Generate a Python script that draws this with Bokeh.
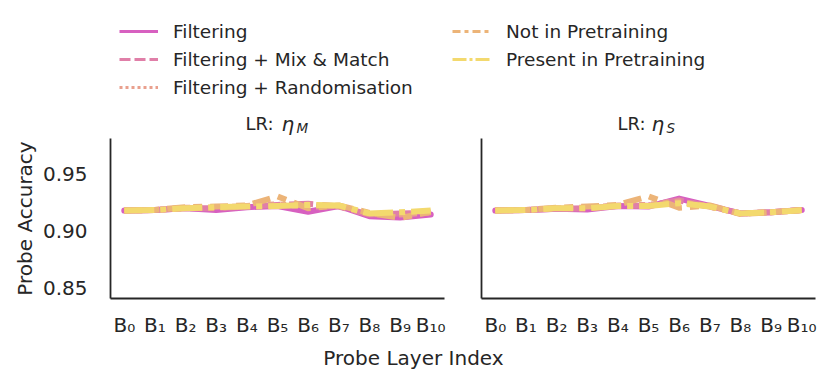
from bokeh.plotting import figure
from bokeh.models import Range1d, FixedTicker, Label, Legend, LegendItem, NumeralTickFormatter
from bokeh.layouts import column, row
from bokeh.embed import file_html
from bokeh.resources import INLINE

# ---------------- data ----------------
layers = list(range(11))
layer_labels = ["B₀", "B₁", "B₂", "B₃", "B₄", "B₅", "B₆", "B₇", "B₈", "B₉", "B₁₀"]
y_ticks = [0.85, 0.90, 0.95]

series_names = ["Filtering", "Filtering + Mix & Match", "Filtering + Randomisation",
                "Not in Pretraining", "Present in Pretraining"]
panel_subs = ["M", "S"]

# panel LR: eta_M
filt_M = [0.9175, 0.9180, 0.9195, 0.9180, 0.9205, 0.9215, 0.9165, 0.9215, 0.9125, 0.9115, 0.9140]
mix_M = [0.9175, 0.9180, 0.9195, 0.9195, 0.9210, 0.9225, 0.9235, 0.9210, 0.9140, 0.9150, 0.9155]
rand_M = [0.9175, 0.9180, 0.9200, 0.9200, 0.9215, 0.9230, 0.9210, 0.9215, 0.9145, 0.9140, 0.9160]
notin_M = [0.9175, 0.9180, 0.9205, 0.9210, 0.9220, 0.9300, 0.9195, 0.9220, 0.9155, 0.9110, 0.9165]
pres_M = [0.9175, 0.9180, 0.9195, 0.9205, 0.9210, 0.9215, 0.9225, 0.9220, 0.9150, 0.9160, 0.9175]

# panel LR: eta_S
filt_S = [0.9175, 0.9180, 0.9190, 0.9185, 0.9215, 0.9210, 0.9280, 0.9215, 0.9150, 0.9160, 0.9180]
mix_S = [0.9175, 0.9180, 0.9190, 0.9195, 0.9215, 0.9220, 0.9265, 0.9210, 0.9150, 0.9160, 0.9180]
rand_S = [0.9175, 0.9180, 0.9195, 0.9200, 0.9220, 0.9225, 0.9255, 0.9210, 0.9150, 0.9160, 0.9178]
notin_S = [0.9175, 0.9180, 0.9200, 0.9210, 0.9225, 0.9300, 0.9200, 0.9220, 0.9145, 0.9160, 0.9180]
pres_S = [0.9175, 0.9180, 0.9195, 0.9195, 0.9215, 0.9215, 0.9240, 0.9210, 0.9150, 0.9160, 0.9178]

# ---------------- styles ----------------
colors = ["#d760c0", "#e07fa8", "#e9a08e", "#ecb478", "#f3d96e"]
plot_dashes = ["solid", "24 9", "6 6", "18 8 9 8", "30 6 6 6"]
legend_dashes = ["solid", "11 4", "3 3", "8 4 4 4", "14 3 3 3"]
TXT = "#262626"
FONT = "DejaVu Sans"

Y0, Y1 = 0.8404, 0.9807
X0, X1 = -0.45, 10.45


def make_panel(width, bl, br, series, show_ylabels):
    p = figure(width=width, height=202, x_range=Range1d(X0, X1), y_range=Range1d(Y0, Y1),
               output_backend="svg", toolbar_location=None,
               min_border_left=bl, min_border_right=br, min_border_top=0, min_border_bottom=42)
    p.outline_line_color = None
    p.grid.visible = False
    for ax in (p.xaxis[0], p.yaxis[0]):
        ax.axis_line_color = TXT
        ax.axis_line_width = 1.8
        ax.major_tick_line_color = None
        ax.minor_tick_line_color = None
        ax.major_label_text_font = FONT
        ax.major_label_text_font_size = "20px"
        ax.major_label_text_color = TXT
    p.xaxis.ticker = FixedTicker(ticks=layers)
    p.xaxis.major_label_overrides = {i: lab for i, lab in zip(layers, layer_labels)}
    p.xaxis.major_label_standoff = 8
    if show_ylabels:
        p.yaxis.ticker = FixedTicker(ticks=y_ticks)
        p.yaxis.formatter = NumeralTickFormatter(format="0.00")
        p.yaxis.major_label_standoff = 17
        p.yaxis.axis_label = "Probe Accuracy"
        p.yaxis.axis_label_text_font = FONT
        p.yaxis.axis_label_text_font_size = "20px"
        p.yaxis.axis_label_text_font_style = "normal"
        p.yaxis.axis_label_text_color = TXT
        p.yaxis.axis_label_standoff = 3
    else:
        p.yaxis.ticker = FixedTicker(ticks=[])
        p.yaxis.major_label_standoff = 0

    for vals, col, dash in zip(series, colors, plot_dashes):
        p.line(layers, vals, line_color=col, line_width=6, line_dash=dash,
               line_cap="round" if dash == "solid" else "butt", line_join="round")
    return p


left = make_panel(462, 110, 18, [filt_M, mix_M, rand_M, notin_M, pres_M], True)
right = make_panel(369, 19, 16, [filt_S, mix_S, rand_S, notin_S, pres_S], False)

# ---------------- legend + titles strip ----------------
XOFF = 1000  # legend sample lines live off-screen; strip x data = XOFF + pixel
top = figure(width=831, height=138, x_range=Range1d(XOFF, XOFF + 831), y_range=Range1d(0, 138),
             output_backend="svg", toolbar_location=None, min_border=0,
             x_axis_location=None, y_axis_location=None)
top.outline_line_color = None
top.grid.visible = False
rs = []
for vals, col, dash in zip([filt_M, mix_M, rand_M, notin_M, pres_M], colors, legend_dashes):
    rs.append(top.line(layers, vals, line_color=col, line_width=2.8, line_dash=dash))


def make_legend(idx, loc):
    return Legend(items=[LegendItem(label=series_names[i], renderers=[rs[i]]) for i in idx],
                  location=loc, orientation="vertical", glyph_width=39, glyph_height=22,
                  label_height=22, label_standoff=15, spacing=6, padding=0, margin=0,
                  border_line_color=None, background_fill_alpha=0,
                  label_text_font=FONT, label_text_font_size="18.5px", label_text_color=TXT)


top.add_layout(make_legend([0, 1, 2], (119, 40)))
top.add_layout(make_legend([3, 4], (452, 68)))

# panel titles "LR: η_M" / "LR: η_S"
for (lr_end, eta_x, sub_x), sub in zip([(273, 281, 296), (645, 651, 666)], panel_subs):
    top.add_layout(Label(x=XOFF + lr_end, y=15, text="LR:", text_align="right",
                         text_baseline="alphabetic", text_font=FONT, text_font_size="18px",
                         text_color=TXT))
    top.add_layout(Label(x=XOFF + eta_x, y=15, text="η", text_align="left",
                         text_baseline="alphabetic", text_font=FONT, text_font_size="20px",
                         text_font_style="italic", text_color=TXT))
    top.add_layout(Label(x=XOFF + sub_x, y=11, text=sub, text_align="left",
                         text_baseline="alphabetic", text_font=FONT, text_font_size="13.5px",
                         text_font_style="italic", text_color=TXT))

# ---------------- x label strip ----------------
bottom = figure(width=831, height=49, x_range=Range1d(0, 831), y_range=Range1d(0, 49),
                output_backend="svg", toolbar_location=None, min_border=0,
                x_axis_location=None, y_axis_location=None)
bottom.outline_line_color = None
bottom.grid.visible = False
bottom.add_layout(Label(x=413, y=32, text="Probe Layer Index", text_align="center",
                        text_baseline="middle", text_font=FONT, text_font_size="20px",
                        text_color=TXT))

layout = column(top, row(left, right), bottom)
open("out.html", "w").write(file_html(layout, INLINE))
